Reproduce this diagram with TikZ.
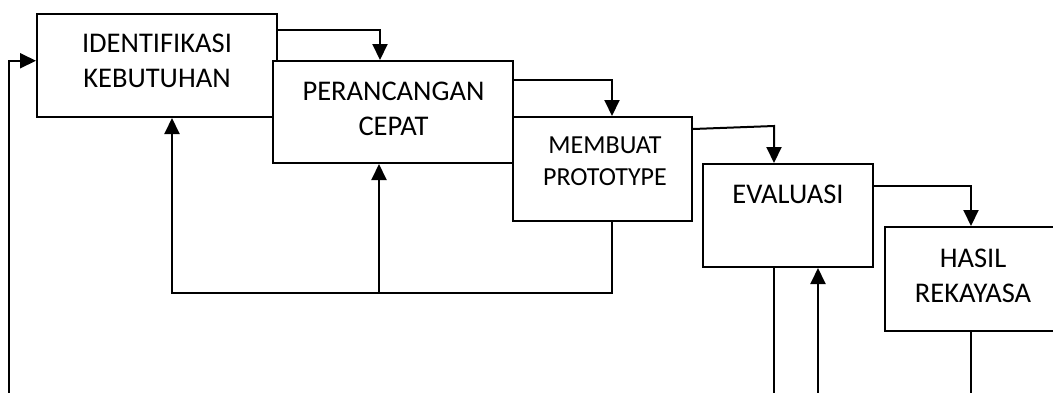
\documentclass[tikz,border=0pt]{standalone}
\usepackage{fontspec}
\setmainfont{Carlito}
\usetikzlibrary{arrows.meta,calc}
\begin{document}
\begin{tikzpicture}[x=1pt,y=-1pt,
  box/.style={draw,fill=white,line width=2pt,inner sep=0pt},
  lbl/.style={align=center,inner sep=0pt,font=\fontsize{28.5}{35}\selectfont},
  lblsmall/.style={align=center,inner sep=0pt,font=\fontsize{26}{32}\selectfont},
  conn/.style={line width=2pt},
  arr/.style={line width=2pt,-{Triangle[width=15pt,length=16pt]}}]
\useasboundingbox (0,0) rectangle (1053,392);
\clip (0,0) rectangle (1053,392);
% boxes
\node[box,minimum width=240pt,minimum height=103.5pt] (b1) at (157,65.25) {};
\node[box,minimum width=240pt,minimum height=102pt] (b2) at (393,112) {};
\node[box,minimum width=179pt,minimum height=104pt] (b3) at (602.5,169) {};
\node[box,minimum width=170pt,minimum height=103pt] (b4) at (788,215.5) {};
\node[box,minimum width=176pt,minimum height=104pt] (b5) at (973,279) {};
% texts
\node[lbl] (t1) at (157,61) {IDENTIFIKASI\\KEBUTUHAN};
\node[lbl] (t2) at (393.5,108.5) {PERANCANGAN\\CEPAT};
\node[lblsmall] (t3) at (605,161) {MEMBUAT\\PROTOTYPE};
\node[lbl] (t4) at (788,194) {EVALUASI};
\node[lbl] (t5) at (973,276) {HASIL\\REKAYASA};
% forward connectors
\draw[arr] ([yshift=-17.5pt]b1.north east) -| ([xshift=-13pt]b2.north);
\draw[arr] ([yshift=-19.7pt]b2.north east) -| ([xshift=9.5pt]b3.north);
\draw[arr] ([yshift=-13pt]b3.north east) -- ($(b4.north)+(-14,-37)$) -- ([xshift=-14pt]b4.north);
\draw[arr] ([yshift=-23pt]b4.north east) -| ([xshift=-2pt]b5.north);
% feedback from prototype
\coordinate (fb) at ($(b3.south)+(9.5,71)$);
\coordinate (b2in) at ([xshift=-14pt]b2.south);
\draw[arr] ([xshift=9.5pt]b3.south) -- (fb) -| ([xshift=15pt]b1.south);
\draw[arr] (b2in |- fb) -- (b2in);
% long loop lines to the bottom
\coordinate (lb) at (9,398);
\coordinate (e1) at (774,398);
\coordinate (e2) at (818,398);
\coordinate (e3) at (971,398);
\draw[arr] (lb) |- ([yshift=4.5pt]b1.west);
\draw[conn] ([xshift=-14pt]b4.south) -- (e1);
\draw[arr] (e2) -- ([xshift=30pt]b4.south);
\draw[conn] ([xshift=-2pt]b5.south) -- (e3);
\end{tikzpicture}
\end{document}
